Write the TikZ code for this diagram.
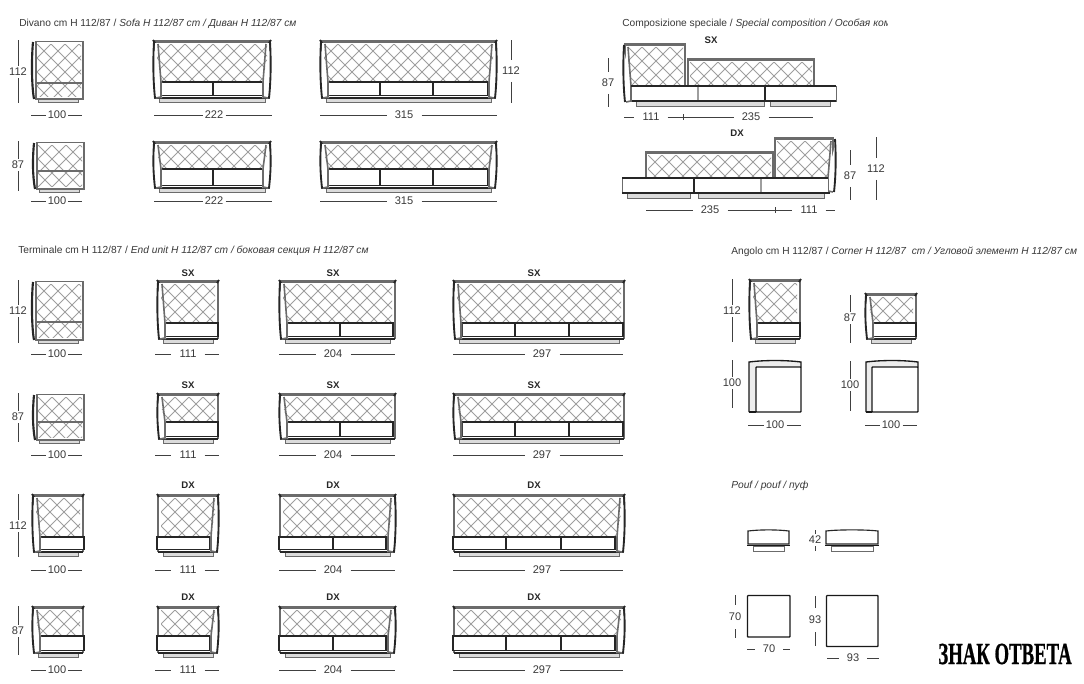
\documentclass[tikz,border=0pt]{standalone}
\usepackage{fontspec}
\setmainfont{Liberation Sans}
\usepackage{tikz}
\usetikzlibrary{positioning}

\definecolor{framegray}{gray}{0.42}
\definecolor{quiltgray}{gray}{0.62}
\definecolor{textgray}{gray}{0.22}

\tikzset{
  quiltline/.style={quiltgray,line width=0.75pt},
  framebar/.style={framegray,line width=1.7pt},
  blackbar/.style={black!85,line width=1pt},
  cushionbox/.style={draw=black!85,fill=white,line width=0.85pt},
  footbox/.style={draw=framegray,fill=gray!28,line width=0.5pt},
  dimline/.style={black!75,line width=0.6pt},
  dimtext/.style={font=\fontsize{8.3}{9}\selectfont,text=textgray,inner sep=1.5pt},
  headtext/.style={font=\fontsize{7.65}{9}\selectfont,text=textgray,inner sep=0pt,anchor=west},
  sidetext/.style={font=\fontsize{7.2}{9}\selectfont\bfseries,text=black!85,inner sep=0pt},
  plansquare/.style={draw=black!90,fill=white,line width=1pt,rounded corners=0.5pt}
}

% diamonds, clipped to a box
\newcommand{\quilt}[4]{
  \begin{scope}
    \clip (#1,#2) rectangle (#3,#4);
    \foreach \k in {-6,...,18}{
      \draw[quiltline] (#1+\k*14,#2) -- ++(84,84);
      \draw[quiltline] (#1+\k*14,#2) -- ++(-84,84);
    }
  \end{scope}
}
% hdim: from, text x, to, y, label
\newcommand{\hdim}[6][1.5pt]{
  \node[dimtext,inner xsep=#1] (dimlbl) at (#3,#5) {#6};
  \draw[dimline] (#2,#5) -- (dimlbl);
  \draw[dimline] (dimlbl) -- (#4,#5);
}
% vdim: x, from, text y, to, label
\newcommand{\vdim}[6][1.5pt]{
  \node[dimtext,inner ysep=#1] (dimlbl) at (#2,#4) {#6};
  \draw[dimline] (#2,#3) -- (dimlbl);
  \draw[dimline] (dimlbl) -- (#2,#5);
}
% arms: L or R, top, bottom, seat
\newcommand{\armL}[4]{
  \fill[white] (#1,#2+4) -- (#1+9,#4) -- (#1+9,#3) -- (#1,#3) -- cycle;
  \draw[framebar,line width=1.2pt] (#1+5,#2+4) -- (#1+8,#4) -- (#1+8,#3-1) -- (#1+3,#3);
  \draw[blackbar,line width=1.4pt] (#1+1,#2+2) .. controls (#1,#2+18) and (#1,#3-18) .. (#1+2,#3);
}
\newcommand{\armR}[4]{
  \fill[white] (#1,#2+4) -- (#1-9,#4) -- (#1-9,#3) -- (#1,#3) -- cycle;
  \draw[framebar,line width=1.2pt] (#1-5,#2+4) -- (#1-8,#4) -- (#1-8,#3-1) -- (#1-3,#3);
  \draw[blackbar,line width=1.4pt] (#1-1,#2+2) .. controls (#1,#2+18) and (#1,#3-18) .. (#1-2,#3);
}
% back, frame, foot and cushions: L, top, R, bottom, seat, cushion list
\newcommand{\couch}[6]{
  \quilt{#1+4}{#2+4}{#3-4}{#5}
  \draw[framebar] (#1+1,#4) -- (#1+1,#2+1.5) -- (#3-1,#2+1.5) -- (#3-1,#4);
  \draw[blackbar,line width=1.4pt] (#1,#2) -- (#1+2,#2+3) (#3,#2) -- (#3-2,#2+3);
  \draw[footbox] (#1+6,#4) rectangle (#3-6,#4+4);
  \draw[blackbar] (#1+1,#4) -- (#3-1,#4);
  \edef\cushlist{#6}
  \foreach \ca/\cb in \cushlist{
    \draw[cushionbox] (\ca,#5) rectangle (\cb,#4-2.5);
    \draw[blackbar] (\ca,#5) -- (\cb,#5);
  }
}
% seen from behind: quilt all the way down
\newcommand{\sideunit}[5]{
  \quilt{#1+5}{#2+4}{#3-3}{#4-3}
  \draw[framebar,line width=1.4pt] (#1+4,#4) -- (#1+4,#2+1.5) -- (#3-1,#2+1.5) -- (#3-1,#4) -- cycle;
  \draw[framebar,line width=1.2pt] (#1+5,#5) -- (#3-1,#5);
  \draw[blackbar,line width=1.6pt] (#1+1,#2+2) .. controls (#1-0.5,#2+18) and (#1-0.5,#4-14) .. (#1+2,#4);
  \draw[footbox] (#1+6,#4) rectangle (#3-6,#4+3);
}
% pouf from the front: L, R, top
\newcommand{\poufside}[3]{
  \draw[cushionbox] (#1,#3+14) -- (#1,#3+1) .. controls (#1+12,#3-0.5) and (#2-12,#3-0.5) .. (#2,#3+1) -- (#2,#3+14) -- cycle;
  \draw[black!90,line width=1.3pt] (#1-1,#3+15.5) -- (#2+1,#3+15.5);
  \draw[footbox,fill=white] (#1+5,#3+16.5) rectangle (#2-5,#3+21);
}

\begin{document}
\begin{tikzpicture}[x=0.75pt,y=-0.75pt]
\useasboundingbox (0,0) rectangle (1084,683);

%titles
\node[headtext] (headsofa) at (19,24) {Divano cm H 112/87 / \textit{Sofa H 112/87 cm / Диван Н 112/87 см}};
\begin{scope}
  \clip (600,10) rectangle (887,40);
  \node[headtext] (headspecial) at (622,24) {Composizione speciale / \textit{Special composition / Особая ком}};
\end{scope}
\node[headtext] (headend) at (18,251) {Terminale cm H 112/87 / \textit{End unit H 112/87 cm / боковая секция H 112/87 см}};
\node[headtext] (headcorner) at (731,252) {Angolo cm H 112/87 / \textit{Corner H 112/87 \ cm / Угловой элемент H 112/87 см}};
\node[headtext] (headpouf) at (731,486) {\textit{Pouf / pouf / пуф}};

%sofa rows
\sideunit{32}{40}{84}{99}{83}
\sideunit{33}{141}{85}{189}{171}
\foreach \rowtop/\rowbot/\rowseat in {40/98/82, 141/188/169}{
  \foreach \colL/\colR/\cush in {153/271/{160/213,213/266}, 320/497/{328/380,380/433,433/488}}{
    \couch{\colL}{\rowtop}{\colR}{\rowbot}{\rowseat}{\cush}
    \armL{\colL}{\rowtop}{\rowbot}{\rowseat}
    \armR{\colR}{\rowtop}{\rowbot}{\rowseat}
  }
}
\foreach \rowy in {115,201}{
  \hdim{31}{57}{82}{\rowy}{100}
  \hdim{154}{214}{272}{\rowy}{222}
  \hdim[6pt]{320}{404}{497}{\rowy}{315}
}
\vdim{18}{40}{72}{103}{112}
\vdim{18}{141}{165}{191}{87}
\vdim[5pt]{511}{40}{71}{103}{112}

%special composition SX
\quilt{628}{47}{683}{86}
\quilt{690}{62}{812}{86}
\draw[framebar] (625,88) -- (625,44.5) -- (685,44.5) -- (685,86);
\draw[framebar] (688,86) -- (688,59.5) -- (814,59.5) -- (814,86);
\armL{623}{43}{102}{86}
\draw[footbox] (636,101) rectangle (764,106.5);
\draw[footbox] (770,101) rectangle (830,106.5);
\draw[cushionbox,draw=framegray,line width=0.65pt] (631,86) rectangle (765,101);
\draw[cushionbox,draw=framegray,line width=0.65pt] (765,86) rectangle (836,101);
\draw[quiltgray,line width=0.8pt] (698,87) -- (698,100);
\draw[blackbar,line width=1.2pt] (765,86) -- (765,101);
\draw[blackbar,line width=1.2pt] (631,86) -- (836,86) (632,101) -- (836,101);
\node[sidetext] (sxspecial) at (711,40) {SX};
\hdim[6pt]{624}{651}{683}{117}{111}
\hdim[6pt]{683}{751}{813}{117}{235}
\draw[dimline] (683,114) -- (683,120);
\vdim[5pt]{608}{58}{83}{107}{87}

%special composition DX
\quilt{648}{155}{771}{178}
\quilt{777}{141}{830}{178}
\draw[framebar] (646,178) -- (646,152.5) -- (773,152.5) -- (773,178);
\draw[framebar] (775,178) -- (775,138.5) -- (833,138.5) -- (833,178);
\armR{836}{137}{192}{178}
\draw[footbox] (627,193) rectangle (690,198.5);
\draw[footbox] (698,193) rectangle (824,198.5);
\draw[cushionbox,draw=framegray,line width=0.65pt] (622,178) rectangle (694,193);
\draw[cushionbox,draw=framegray,line width=0.65pt] (694,178) rectangle (828,193);
\draw[quiltgray,line width=0.8pt] (761,179) -- (761,192);
\draw[blackbar,line width=1.2pt] (694,178) -- (694,193);
\draw[blackbar,line width=1.2pt] (622,178) -- (828,178) (622,193) -- (830,193);
\node[sidetext] (dxspecial) at (737,133) {DX};
\hdim[6pt]{646}{710}{775}{210}{235}
\hdim[6pt]{775}{809}{835}{210}{111}
\draw[dimline] (775,207) -- (775,213);
\vdim[5pt]{850}{150}{176}{200}{87}
\vdim[5pt]{876}{137}{169}{200}{112}

%end units, SX
\sideunit{32}{280}{84}{340}{322}
\sideunit{33}{393}{85}{440}{422}
\foreach \rowtop/\rowbot/\rowseat/\lbly in {280/339/323/273, 393/439/422/385}{
  \foreach \colL/\colR/\cush/\lblx in {157/219/{165/218}/188, 279/396/{287/340,340/393}/333, 453/625/{462/515,515/569,569/623}/534}{
    \couch{\colL}{\rowtop}{\colR}{\rowbot}{\rowseat}{\cush}
    \armL{\colL}{\rowtop}{\rowbot}{\rowseat}
    \node[sidetext] (sxlbl) at (\lblx,\lbly) {SX};
  }
}
%end units, DX
\foreach \rowtop/\rowbot/\rowseat/\lbly in {494/552/537/485, 606/653/636/597}{
  \couch{32}{\rowtop}{84}{\rowbot}{\rowseat}{40/84}
  \armL{32}{\rowtop}{\rowbot}{\rowseat}
  \foreach \colL/\colR/\cush/\lblx in {157/219/{157/210}/188, 279/396/{279/333,333/386}/333, 453/625/{453/506,506/561,561/615}/534}{
    \couch{\colL}{\rowtop}{\colR}{\rowbot}{\rowseat}{\cush}
    \armR{\colR}{\rowtop}{\rowbot}{\rowseat}
    \node[sidetext] (dxlbl) at (\lblx,\lbly) {DX};
  }
}
\foreach \rowy in {354,455,570,670}{
  \hdim{31}{57}{82}{\rowy}{100}
  \hdim[6pt]{155}{188}{219}{\rowy}{111}
  \hdim[6pt]{279}{333}{395}{\rowy}{204}
  \hdim[6pt]{453}{542}{623}{\rowy}{297}
}
\vdim{18}{280}{311}{343}{112}
\vdim{18}{393}{417}{442}{87}
\vdim{18}{494}{526}{557}{112}
\vdim{18}{606}{631}{655}{87}

%corner
\couch{749}{279}{801}{339}{323}{756/800}
\armL{749}{279}{339}{323}
\couch{865}{293}{917}{339}{323}{871/916}
\armL{865}{293}{339}{323}
\foreach \colL/\inner in {749/756, 866/872}{
  \fill[gray!14] (\colL,361) rectangle (\colL+52,412);
  \draw[plansquare] (\inner,367) rectangle (\colL+52,412);
  \draw[black!90,line width=1pt] (\colL,412) -- (\colL,362) .. controls (\colL+16,360) and (\colL+36,360) .. (\colL+52,362) -- (\colL+52,367);
  \draw[black!90,line width=0.9pt] (\colL,412) -- (\inner,412);
}
\vdim{732}{279}{311}{342}{112}
\vdim{850}{295}{318}{343}{87}
\vdim{732}{360}{383}{408}{100}
\vdim{850}{361}{385}{411}{100}
\hdim{748}{775}{801}{425}{100}
\hdim{865}{891}{917}{425}{100}

%pouf
\poufside{748}{789}{530}
\poufside{826}{878}{530}
\draw[plansquare] (747.5,595.5) rectangle (790,637);
\draw[plansquare] (826.5,595.5) rectangle (878,646.5);
\vdim{815}{530}{540}{551}{42}
\vdim[6pt]{735}{595}{617}{638}{70}
\vdim[6pt]{815}{596}{620}{646}{93}
\hdim[6pt]{747}{769}{790}{649}{70}
\hdim[6pt]{827}{853}{879}{658}{93}

\node[inner sep=0pt] (stamp) at (1005,654) {\fontspec{Liberation Serif}[FakeBold=1]\scalebox{0.78}[1.28]{\fontsize{18}{20}\selectfont\bfseries ЗНАК ОТВЕТА}};
\end{tikzpicture}
\end{document}
